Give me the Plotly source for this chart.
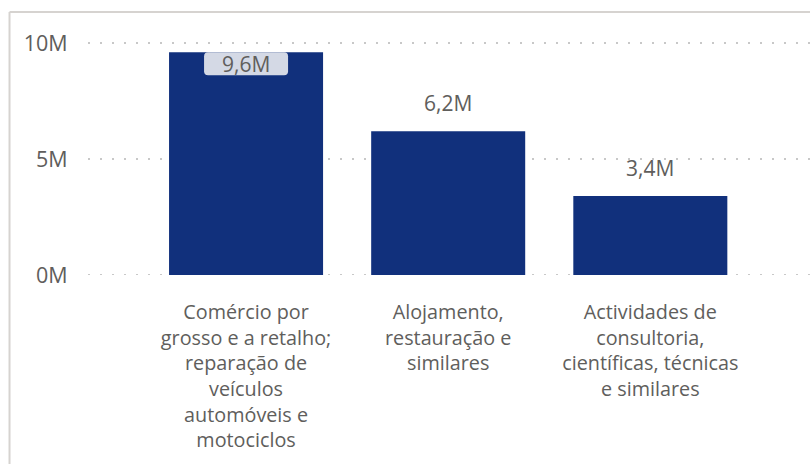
import plotly.graph_objects as go

# Values per economic activity
categories = [
    "Comércio por<br>grosso e a retalho;<br>reparação de<br>veículos<br>automóveis e<br>motociclos",
    "Alojamento,<br>restauração e<br>similares",
    "Actividades de<br>consultoria,<br>científicas, técnicas<br>e similares",
]
values = [9.6e6, 6.2e6, 3.4e6]
value_labels = ["9,6M", "6,2M", "3,4M"]
y_tick_vals = [0, 5e6, 10e6]
y_tick_text = ["0M", "5M", "10M"]

BAR = "#11307C"
TEXT = "#605E5C"
GRID = "#C8C8C8"
FONT = "Open Sans"

fig = go.Figure(
    go.Bar(
        x=list(range(len(categories))),
        y=values,
        marker=dict(color=BAR, line=dict(width=0)),
        hoverinfo="skip",
    )
)

# Dotted baseline at zero, under the bars
fig.add_shape(type="line", xref="paper", yref="y", x0=0, x1=1, y0=0, y1=0,
              layer="below", line=dict(color=GRID, width=2, dash="2px,10px"))

# Value labels: the tallest one sits inside the bar on a rounded light badge
for i, (v, lab) in enumerate(zip(values, value_labels)):
    if i == 0:
        fig.add_shape(
            type="path", xref="x", yref="y",
            xsizemode="pixel", ysizemode="pixel", xanchor=i, yanchor=v,
            path=("M -38 0 L 38 0 Q 42 0 42 -4 L 42 -19 Q 42 -23 38 -23 "
                  "L -38 -23 Q -42 -23 -42 -19 L -42 -4 Q -42 0 -38 0 Z"),
            fillcolor="#D4D9E5", line=dict(width=0),
        )
        fig.add_annotation(
            x=i, y=v, text=lab, showarrow=False, yanchor="middle",
            yshift=-11.5, font=dict(family=FONT, size=21, color=TEXT),
        )
    else:
        fig.add_annotation(
            x=i, y=v, text=lab, showarrow=False, yanchor="middle",
            yshift=28, font=dict(family=FONT, size=21, color=TEXT),
        )

# Card border (left and top edges)
fig.add_shape(type="line", xref="paper", yref="paper",
              x0=-0.1087, x1=-0.1087, y0=1.0735, y1=-0.9,
              line=dict(color="#D6D3D0", width=2))
fig.add_shape(type="line", xref="paper", yref="paper",
              x0=-0.1087, x1=1.1, y0=1.0735, y1=1.0735,
              line=dict(color="#D6D3D0", width=2))

fig.update_layout(
    width=810, height=464,
    margin=dict(l=88, r=0, t=30, b=189),
    paper_bgcolor="white", plot_bgcolor="white",
    bargap=0.238,
    showlegend=False,
    font=dict(family=FONT, color=TEXT),
)
fig.update_xaxes(
    range=[-0.782, 2.79],
    tickvals=list(range(len(categories))),
    ticktext=categories,
    tickfont=dict(family=FONT, size=19.8, color=TEXT),
    showgrid=False, zeroline=False, showline=False,
    ticks="outside", ticklen=19, tickcolor="rgba(0,0,0,0)",
    tickangle=0,
)
fig.update_yaxes(
    range=[0, 245 / 23.2 * 1e6],
    tickvals=y_tick_vals, ticktext=y_tick_text,
    tickfont=dict(family=FONT, size=21.5, color=TEXT),
    showgrid=True, gridcolor=GRID, gridwidth=2, griddash="2px,10px",
    zeroline=False, showline=False,
    ticks="outside", ticklen=15, tickcolor="rgba(0,0,0,0)",
)

fig.write_html("out.html")
